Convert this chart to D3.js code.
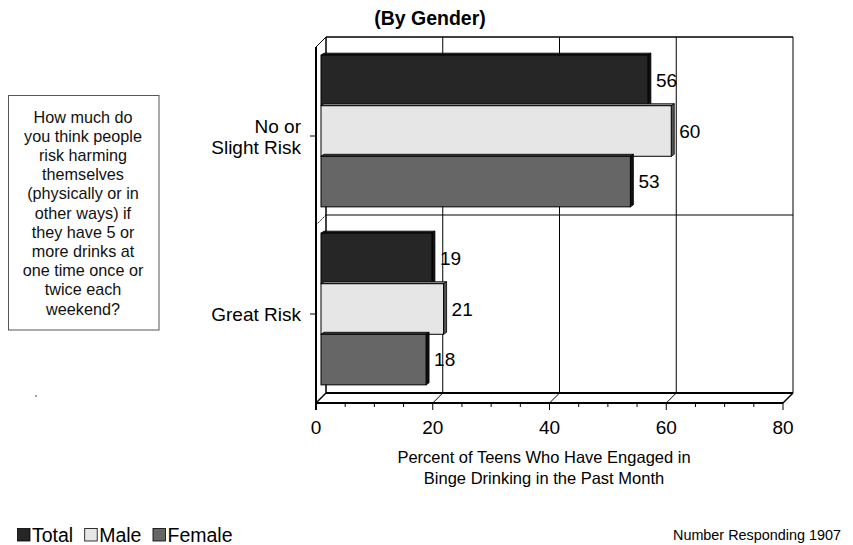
<!DOCTYPE html>
<html><head><meta charset="utf-8">
<script src="https://cdn.jsdelivr.net/npm/d3@7"></script>
<style>body{margin:0;background:#fff}svg{display:block;font-family:Arial,"Liberation Sans",sans-serif}</style>
</head><body><svg id="c" width="853" height="545"></svg>
<script>
const categories = ["No or|Slight Risk", "Great Risk"];
const seriesNames = ["Total", "Male", "Female"];
const totalValues = [56, 19];
const maleValues = [60, 21];
const femaleValues = [53, 18];
const xTicks = [0, 20, 40, 60, 80];
const colors = {Total: "#262626", Male: "#e6e6e6", Female: "#666666"};
const questionLines = ["How much do","you think people","risk harming","themselves","(physically or in","other ways)  if","they have 5 or","more drinks at","one time once or","twice each","weekend?"];

const svg = d3.select("#c");
const D = 10; // depth offset
const xB = d3.scaleLinear().domain([0, 80]).range([326, 793]);
const xF = v => xB(v) - D;
const yB = d3.scaleBand().domain(categories).range([37, 393]).padding(0);
const yS = d3.scaleBand().domain(seriesNames).range([0, yB.bandwidth()]).paddingInner(0).paddingOuter(0.26);
const data = categories.map((c, i) => ({cat: c, vals: [totalValues[i], maleValues[i], femaleValues[i]]}));

const g = svg.append("g");
xTicks.slice(1).forEach(t => {
  g.append("line").attr("x1", xB(t)).attr("x2", xB(t)).attr("y1", 37).attr("y2", 393).attr("stroke", "#000").attr("stroke-width", 1);
  g.append("line").attr("x1", xF(t)).attr("y1", 403).attr("x2", xB(t)).attr("y2", 393).attr("stroke", "#000").attr("stroke-width", 1);
});
g.append("line").attr("x1", xB(0)).attr("x2", xB(80)).attr("y1", 37).attr("y2", 37).attr("stroke", "#000").attr("stroke-width", 1.5);
categories.slice(1).forEach(c => {
  const y = yB(c);
  g.append("line").attr("x1", xB(0)).attr("x2", xB(80)).attr("y1", y).attr("y2", y).attr("stroke", "#000").attr("stroke-width", 1);
  g.append("line").attr("x1", xF(0)).attr("y1", y + D).attr("x2", xB(0)).attr("y2", y).attr("stroke", "#000").attr("stroke-width", 1).attr("stroke-dasharray", "1.5,1");
});
g.append("line").attr("x1", xB(0)).attr("x2", xB(0)).attr("y1", 37).attr("y2", 393).attr("stroke", "#000").attr("stroke-width", 1.5);
g.append("line").attr("x1", xF(0)).attr("y1", 47).attr("x2", xB(0)).attr("y2", 37).attr("stroke", "#000").attr("stroke-width", 1);
g.append("line").attr("x1", xB(0)).attr("x2", xB(80)).attr("y1", 393).attr("y2", 393).attr("stroke", "#000").attr("stroke-width", 2);
g.append("line").attr("x1", xF(0)).attr("y1", 403).attr("x2", xB(0)).attr("y2", 393).attr("stroke", "#000").attr("stroke-width", 1.5);
g.append("line").attr("x1", xF(80)).attr("y1", 403).attr("x2", xB(80)).attr("y2", 393).attr("stroke", "#000").attr("stroke-width", 1.5);

const half = D / 2;
data.forEach(d => {
  seriesNames.forEach((s, j) => {
    const v = d.vals[j];
    const y0 = yB(d.cat) + yS(s) + half;
    const h = yS.bandwidth();
    const x0 = xB(0) - half, x1 = xB(v) - half;
    const col = colors[s];
    const dark = d3.color(col).darker(1.2);
    svg.append("path").attr("d", `M${x0},${y0}L${x0+3},${y0-2}L${x1+3},${y0-2}L${x1},${y0}Z`).attr("fill", dark).attr("stroke", "#000").attr("stroke-width", 0.8);
    svg.append("path").attr("d", `M${x1},${y0}L${x1+3},${y0-2}L${x1+3},${y0+h-2}L${x1},${y0+h}Z`).attr("fill", s === "Male" ? "#555" : "#111").attr("stroke", "#000").attr("stroke-width", 0.8);
    svg.append("rect").attr("x", x0).attr("y", y0).attr("width", x1 - x0).attr("height", h).attr("fill", col).attr("stroke", "#000").attr("stroke-width", 1);
    svg.append("text").attr("x", x1 + 8).attr("y", y0 + h / 2).attr("dy", "0.36em").attr("font-size", 19).text(v);
  });
});

svg.append("line").attr("x1", xF(0)).attr("x2", xF(80)).attr("y1", 403).attr("y2", 403).attr("stroke", "#000").attr("stroke-width", 2);
svg.append("line").attr("x1", xF(0)).attr("x2", xF(0)).attr("y1", 47).attr("y2", 410).attr("stroke", "#000").attr("stroke-width", 2);
const xAxisScale = d3.scaleLinear().domain([0, 80]).range([xF(0), xF(80)]);
d3.range(0, 81, 5).forEach(t => {
  const major = xTicks.includes(t);
  svg.append("line").attr("x1", xAxisScale(t)).attr("x2", xAxisScale(t)).attr("y1", 403).attr("y2", major ? 410 : 407).attr("stroke", "#000").attr("stroke-width", 1);
});
xTicks.forEach(t => {
  svg.append("text").attr("x", xAxisScale(t)).attr("y", 433.5).attr("text-anchor", "middle").attr("font-size", 19).text(t);
});
categories.forEach(c => {
  const yc = yB(c) + yB.bandwidth() / 2 + D;
  svg.append("line").attr("x1", 310).attr("x2", xF(0)).attr("y1", yc).attr("y2", yc).attr("stroke", "#000");
  const lines = c.split("|");
  const t = svg.append("text").attr("text-anchor", "end").attr("font-size", 19);
  lines.forEach((l, i) => {
    t.append("tspan").attr("x", 301).attr("y", yc + 7 + (i - (lines.length - 1) / 2) * 21).text(l);
  });
});

svg.append("text").attr("x", 430).attr("y", 25).attr("text-anchor", "middle").attr("font-size", 19.5).attr("font-weight", "bold").text("(By Gender)");

svg.append("text").attr("x", 544).attr("y", 463).attr("text-anchor", "middle").attr("font-size", 16.5).text("Percent of Teens Who Have Engaged in");
svg.append("text").attr("x", 544).attr("y", 484).attr("text-anchor", "middle").attr("font-size", 16.5).text("Binge Drinking in the Past Month");

svg.append("rect").attr("x", 8.5).attr("y", 95.5).attr("width", 150.5).attr("height", 234.5).attr("fill", "#fff").attr("stroke", "#555").attr("stroke-width", 1);
questionLines.forEach((l, i) => {
  svg.append("text").attr("x", 83).attr("y", 122.5 + i * 19.2).attr("text-anchor", "middle").attr("font-size", 16.2).attr("fill", "#111").text(l);
});
svg.append("circle").attr("cx", 36).attr("cy", 396).attr("r", 0.7).attr("fill", "#000");

let lx = 17;
seriesNames.forEach(s => {
  svg.append("rect").attr("x", lx + 0.5).attr("y", 528.5).attr("width", 12.5).attr("height", 12.5).attr("fill", colors[s]).attr("stroke", "#000").attr("stroke-width", 0.8);
  const t = svg.append("text").attr("x", lx + 15).attr("y", 541.5).attr("font-size", 19.5).text(s);
  lx += 15 + t.node().getComputedTextLength() + 11;
});
svg.append("text").attr("x", 841).attr("y", 540).attr("text-anchor", "end").attr("font-size", 14.4).text("Number Responding 1907");
</script></body></html>
